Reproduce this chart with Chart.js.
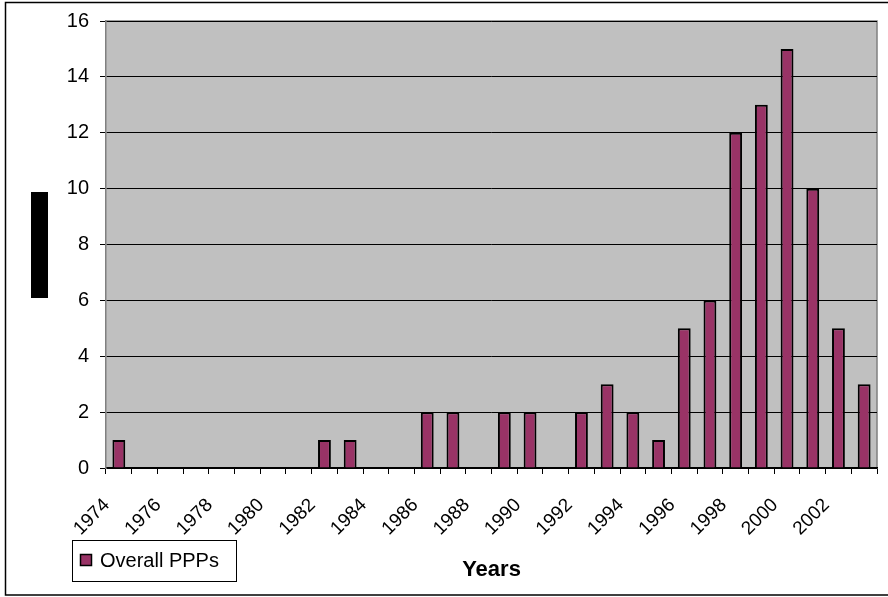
<!DOCTYPE html>
<html>
<head>
<meta charset="utf-8">
<script src="https://cdn.jsdelivr.net/npm/chart.js@4/dist/chart.umd.min.js"></script>
<style>
  html, body { margin: 0; padding: 0; background: #fff; }
  #wrap { width: 888px; height: 597px; position: relative; }
</style>
</head>
<body>
<div id="wrap"><canvas id="chartPPP"></canvas></div>
<script>
const years = ['1974','1975','1976','1977','1978','1979','1980','1981','1982','1983',
               '1984','1985','1986','1987','1988','1989','1990','1991','1992','1993',
               '1994','1995','1996','1997','1998','1999','2000','2001','2002','2003']
const overallPPPs = [1,0,0,0,0,0,0,0,1,1,
                     0,0,2,2,0,2,2,0,2,3,
                     2,1,5,6,12,13,15,10,5,3]
const yTicks = [0, 2, 4, 6, 8, 10, 12, 14, 16]

const fuente = 'Liberation Sans, Arial, sans-serif'

// fondo gris del area, marco exterior, leyenda y el bloque negro del titulo Y
const decoracion = {
    id: 'decoracion',
    beforeDraw(chart) {
        const { ctx, chartArea: a } = chart
        ctx.save()
        ctx.fillStyle = '#c0c0c0'
        ctx.fillRect(a.left, a.top, a.right - a.left, a.bottom - a.top)
        ctx.strokeStyle = '#808080'
        ctx.lineWidth = 1.5
        ctx.beginPath()
        ctx.moveTo(a.left, a.top)
        ctx.lineTo(a.right, a.top)
        ctx.lineTo(a.right, a.bottom)
        ctx.stroke()
        ctx.restore()
    },
    afterDraw(chart) {
        const { ctx } = chart
        ctx.save()
        ctx.strokeStyle = '#000'
        ctx.lineWidth = 1.5
        ctx.strokeRect(5.5, 2.5, 890, 592.5)
        ctx.fillStyle = '#000'
        ctx.fillRect(31, 192, 17, 106)

        // leyenda
        const ds = chart.data.datasets[0]
        ctx.lineWidth = 1
        ctx.strokeRect(72.5, 540.5, 164, 41)
        ctx.fillStyle = ds.backgroundColor
        ctx.fillRect(80, 554, 12, 12)
        ctx.strokeStyle = '#000'
        ctx.lineWidth = 1.5
        ctx.strokeRect(80.5, 554.5, 11, 11)
        ctx.fillStyle = '#000'
        ctx.font = '20px ' + fuente
        ctx.textBaseline = 'middle'
        ctx.fillText(ds.label, 100, 561)
        ctx.restore()
    }
}

const canvas = document.getElementById('chartPPP')
const context = canvas.getContext('2d')

const chartPPP = new Chart(context, {
    type : 'bar',
    data : {
        labels : years,
        datasets : [
            {
                label : 'Overall PPPs',
                data : overallPPPs,
                backgroundColor : '#993366',
                borderColor : '#000000',
                borderWidth : c => c.raw === 0 ? 0 : 2,
                barPercentage : 0.5,
                categoryPercentage : 1
            }
        ]
    },
    options : {
        responsive : true,
        maintainAspectRatio : false,
        animation : false,
        layout : { padding : { top : 21, right : 11, bottom : 8, left : 0 } },
        plugins : {
            legend : { display : false },
            tooltip : { enabled : false }
        },
        scales : {
            x : {
                grid : { offset : true, drawOnChartArea : false, tickLength : 6, color : '#000' },
                border : { color : '#000', width : 1.5 },
                ticks : {
                    autoSkip : false,
                    minRotation : 45,
                    maxRotation : 45,
                    padding : 20,
                    labelOffset : -12,
                    color : '#000',
                    font : { family : fuente, size : 19 },
                    callback : (v, i) => i % 2 === 0 ? years[i] : ''
                },
                title : {
                    display : true,
                    text : 'Years',
                    color : '#000',
                    font : { family : fuente, size : 22, weight : 'bold' },
                    padding : { top : 0, bottom : 6 }
                },
                afterFit : s => {
                    s.height = 121
                    s.paddingLeft = 0
                    s.paddingRight = 0
                }
            },
            y : {
                min : 0,
                max : 16,
                afterBuildTicks : s => { s.ticks = yTicks.map(v => ({ value : v })) },
                grid : { color : '#000', tickLength : 6, lineWidth : 1 },
                border : { color : '#808080', width : 1.5 },
                ticks : {
                    color : '#000',
                    padding : 11,
                    font : { family : fuente, size : 20 }
                },
                afterFit : s => {
                    s.width = 106
                    s.paddingTop = 0
                    s.paddingBottom = 0
                }
            }
        }
    },
    plugins : [decoracion]
})
</script>
</body>
</html>
